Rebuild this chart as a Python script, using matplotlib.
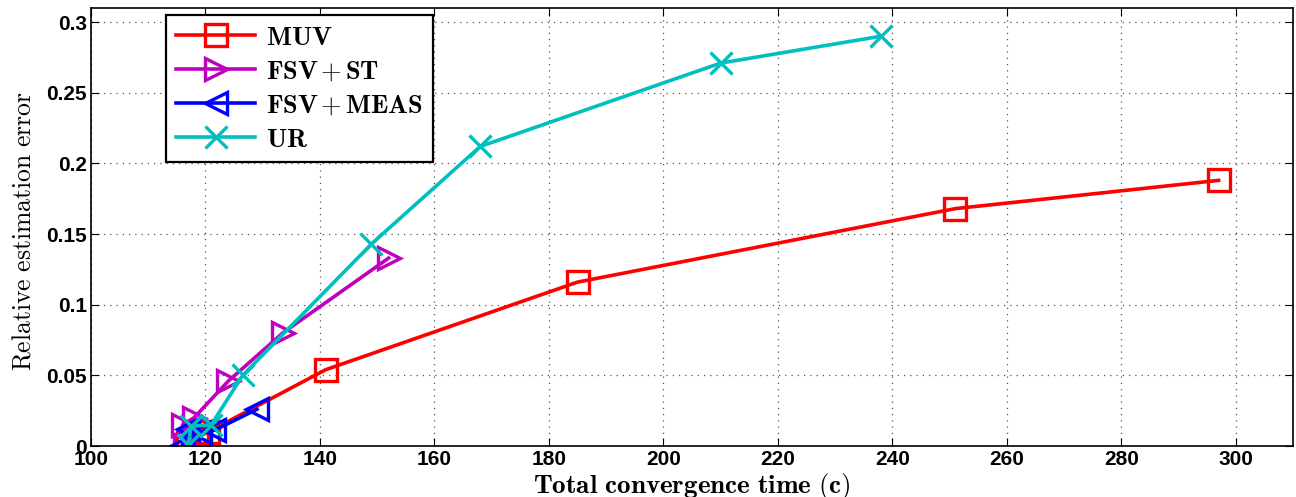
import numpy as np
import matplotlib
matplotlib.use("Agg")
import matplotlib.pyplot as plt

plt.rcParams["mathtext.fontset"] = "cm"
plt.rcParams["font.family"] = ["Liberation Sans", "DejaVu Sans"]

# data
muv_t = [117.0, 118.5, 120.5, 141.0, 185.0, 251.0, 297.0]
muv_e = [0.002, 0.006, 0.010, 0.054, 0.116, 0.168, 0.188]

fsv_st_t = [116.5, 116.0, 118.0, 124.0, 133.5, 152.0]
fsv_st_e = [0.001, 0.015, 0.020, 0.046, 0.080, 0.133]

fsv_meas_t = [116.0, 117.0, 119.0, 121.5, 129.0]
fsv_meas_e = [0.001, 0.012, 0.010, 0.011, 0.026]

ur_t = [117.0, 117.5, 121.0, 126.5, 149.0, 168.0, 210.0, 238.0]
ur_e = [0.001, 0.014, 0.015, 0.050, 0.143, 0.212, 0.271, 0.290]

xticks = np.arange(100, 301, 20)
yticks = [0, 0.05, 0.1, 0.15, 0.2, 0.25, 0.3]

fig = plt.figure(figsize=(12.96, 4.97), dpi=100)
ax = fig.add_axes([91 / 1296, 1 - 446 / 497, 1202 / 1296, 438 / 497])

kw = dict(linewidth=2.6, markersize=16, markeredgewidth=2.4, markerfacecolor="none")
ax.plot(muv_t, muv_e, "-s", color="#ff0000", label=r"$\mathbf{MUV}$", **kw)
ax.plot(fsv_st_t, fsv_st_e, "->", color="#bf00bf", label=r"$\mathbf{FSV\,{+}\,ST}$", **kw)
ax.plot(fsv_meas_t, fsv_meas_e, "-<", color="#0000ff", label=r"$\mathbf{FSV\,{+}\,MEAS}$", **kw)
ax.plot(ur_t, ur_e, "-x", color="#00bfbf", label=r"$\mathbf{UR}$", **kw)

ax.set_xlim(100, 310)
ax.set_ylim(0, 0.31)
ax.set_xticks(xticks)
ax.set_yticks(yticks)
ax.set_yticklabels(["0", "0.05", "0.1", "0.15", "0.2", "0.25", "0.3"])
ax.tick_params(direction="in", top=True, right=True, length=6, labelsize=15, pad=3)
for lab in ax.get_xticklabels() + ax.get_yticklabels():
    lab.set_fontweight("bold")
ax.grid(color="#555555", linestyle=(0, (1, 4)), linewidth=0.9)
for s in ax.spines.values():
    s.set_linewidth(1.2)

ax.set_xlabel(r"$\mathbf{Total\ convergence\ time\ (c)}$", fontsize=19.5)
ax.xaxis.set_label_coords(0.5, -0.058)
ax.set_ylabel(r"$\mathrm{Relative\ estimation\ error}$", fontsize=18.5)
ax.yaxis.set_label_coords(-0.046, 0.49)

leg = ax.legend(loc="upper left", bbox_to_anchor=(0.062, 0.984), borderaxespad=0,
                fontsize=19, fancybox=False, edgecolor="black", framealpha=1,
                handlelength=3.0, handletextpad=0.4, borderpad=0.4, labelspacing=0.38)
leg.get_frame().set_linewidth(1.6)

fig.savefig("out.png", dpi=100)
